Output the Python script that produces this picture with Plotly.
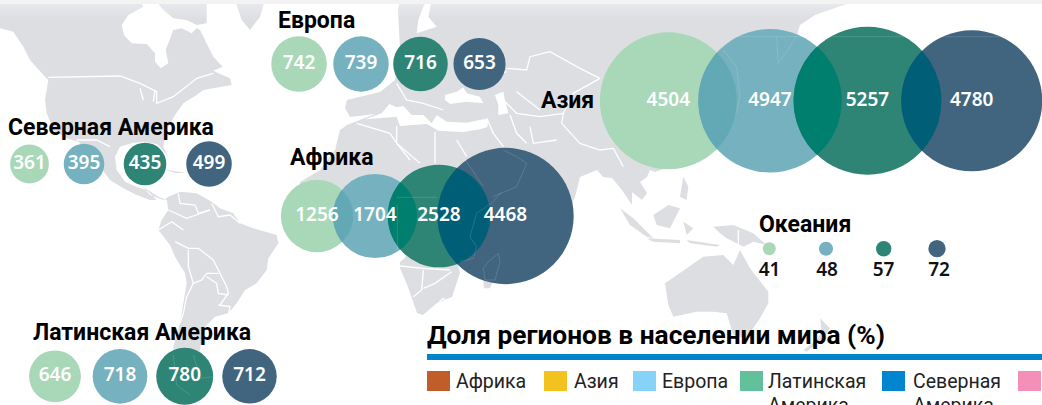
import numpy as np
import plotly.graph_objects as go

W, H = 1042, 405

# ---- data ----
REGION_NAMES = ["Европа", "Северная Америка", "Латинская Америка", "Африка", "Азия", "Океания"]
EUROPE = [742, 739, 716, 653]
NORTH_AMERICA = [361, 395, 435, 499]
LATIN_AMERICA = [646, 718, 780, 712]
AFRICA = [1256, 1704, 2528, 4468]
ASIA = [4504, 4947, 5257, 4780]
OCEANIA = [41, 48, 57, 72]
SHARE_TITLE = "Доля регионов в населении мира (%)"
SHARE_LABELS = ["Африка", "Азия", "Европа", "Латинская", "Северная"]
SHARE_LABELS_2 = ["Америка", "Америка"]

# ---- placement & style ----
PERIOD_COLORS = ["#a8d8b8", "#75b1be", "#2e8576", "#41657f"]
EUROPE_X, EUROPE_Y = [299, 361, 420.5, 479.5], 64
NA_X, NA_Y = [29.5, 84, 145, 209], 164
LA_X, LA_Y = [55, 120, 184.7, 249.5], 376.3
AFRICA_X, AFRICA_Y = [317, 375, 439, 505.5], 216
ASIA_X, ASIA_Y = [668.3, 770, 867.5, 971.7], 100.8
OCEANIA_X, OCEANIA_Y = [769.3, 826, 883.7, 937], 248.7
LENS_COLORS = ["#63a9b5", "#007e6e", "#005e76"]
SHARE_COLORS = ["#c05d28", "#f2c31f", "#87d3f8", "#62c19a", "#0085ce", "#f48fba"]
SHARE_SWATCH_X0 = [427, 544, 633, 740, 882, 1018]
SHARE_TEXT_X = [455, 572.7, 660.7, 767, 912.3]
SHARE_TEXT_2_X = [767, 912.3]
LAND = "#dcdee2"
BOLD_FONT = "Roboto"
SIZEREF = 0.4806


def radius(v):
    return np.sqrt(v / (2 * SIZEREF))


def z(pts, ox, oy):
    """Background outline traced from an enlarged view (scale 3)."""
    return [(ox + a / 3, oy + b / 3) for a, b in pts]


# ---- backdrop map outlines ----
NORTH = z([(0,0),(420,0),(430,20),(385,45),(365,75),(372,105),(395,130),(440,132),(465,160),(465,185),(482,205),(505,190),(497,150),(512,110),(520,90),(545,85),(575,100),(590,85),(600,90),(625,140),(640,170),(668,200),(640,212),(660,222),(690,235),(695,255),(640,265),(610,270),(590,285),(550,310),(525,345),(505,380),(495,415),(490,440),(505,470),(480,440),(470,432),(430,425),(395,430),(360,440),(345,470),(350,510),(375,545),(410,560),(440,570),(470,600),(450,600),(410,585),(370,565),(330,540),(300,500),(270,460),(235,425),(200,415),(160,390),(140,340),(135,300),(145,240),(130,225),(90,180),(70,140),(40,95),(0,85)], 0, 0)
BAFFIN = z([(465,0),(620,0),(620,70),(590,75),(560,60),(520,55),(490,30)], 0, 0)
GREENLAND = z([(705,0),(795,0),(780,50),(750,90),(725,60)], 0, 0)
SOUTH = z([(40,20),(60,45),(100,60),(115,50),(150,35),(200,40),(245,65),(270,85),(310,100),(330,130),(370,145),(440,165),(445,190),(415,235),(410,270),(380,310),(345,330),(320,370),(295,400),(255,410),(225,440),(215,480),(210,510),(200,560),(160,620),(130,600),(130,500),(150,430),(160,370),(170,310),(165,280),(135,230),(120,195),(85,150),(95,120),(115,90),(110,60),(85,50)], 130, 180)
EURASIA_AFRICA = [(427,0),(858,0),(835,8),(815,15),(800,25),(790,60),(745,140),(655,172),(650,170),(647,177),(640,182),(647,193),(642,200),(632,192),(632,205),(622,190),(612,178),(603,177),(597,170),(580,177),(575,197),(555,240),(510,240),(470,257),(458,265),(460,273),(452,297),(437,303),(423,315),(417,313),(408,287),(400,268),(400,262),(405,258),(410,240),(375,245),(335,238),(300,225),(300,182),(320,170),(335,150),(340,130),(347,125),(365,118),(375,114),(350,117),(345,108),(347,100),(380,92),(395,80),(400,50),(398,10),(400,0)]
MADAGASCAR = z([(310,270),(340,270),(330,295),(312,295)], 380, 190)
AUSTRALIA = z([(435,235),(470,210),(550,155),(610,150),(640,180),(660,135),(690,190),(745,260),(745,295),(720,340),(680,400),(640,390),(620,325),(580,320),(530,320),(460,335),(445,300)], 520, 205)
NEW_GUINEA = z([(580,65),(640,60),(700,85),(740,120),(700,110),(670,125),(620,100),(600,85)], 520, 205)
BORNEO = z([(445,0),(480,10),(450,70),(410,60),(400,30)], 520, 205)
SULAWESI = z([(490,50),(520,70),(500,90)], 520, 205)
SUMATRA = z([(300,10),(340,40),(400,100),(380,95),(330,60)], 520, 205)
JAVA = z([(380,100),(480,105),(480,115),(400,110)], 520, 205)
TIMOR = z([(500,105),(600,120),(590,125),(510,115)], 520, 205)
NEW_ZEALAND = z([(900,340),(930,370),(910,400),(860,440),(850,435),(890,405),(905,380)], 520, 205)
PHILIPPINES = z([(550,530),(565,560),(560,600),(540,590)], 500, 0)
CUBA = z([(490,508),(555,518),(530,520)], 0, 0)
LAND_POLYS = [NORTH, BAFFIN, GREENLAND, SOUTH, EURASIA_AFRICA, MADAGASCAR, AUSTRALIA, NEW_GUINEA,
              BORNEO, SULAWESI, SUMATRA, JAVA, TIMOR, NEW_ZEALAND, PHILIPPINES, CUBA]

MED = z([(345,358),(395,340),(418,312),(440,322),(460,318),(485,345),(520,345),(545,370),(560,345),(590,365),(650,368),(700,358),(715,358),(712,382),(690,388),(640,396),(565,392),(530,372),(450,378),(440,350),(395,354)], 250, 0)
BLACK_SEA = z([(585,285),(620,275),(640,262),(650,280),(690,290),(700,310),(650,305),(600,312),(585,300)], 250, 0)
CASPIAN = z([(735,285),(760,275),(765,300),(775,340),(745,345),(745,315)], 250, 0)
BALTIC = z([(505,60),(520,20),(530,0),(545,0),(535,50),(560,80),(500,100)], 250, 0)
WATER_POLYS = [MED, BLACK_SEA, CASPIAN, BALTIC]

BORDERS = [
    z([(145,232),(360,228),(420,250),(470,275),(470,310),(520,290),(565,255),(590,235),(640,220)], 0, 0),
    z([(230,420),(290,420),(330,440)], 0, 0),
    z([(420,265),(430,300)], 0, 0), z([(465,270),(460,305)], 0, 0),
    z([(145,40),(150,70),(195,75),(205,100),(240,90)], 130, 180),
    z([(85,150),(125,125),(160,150)], 130, 180),
    z([(115,90),(170,115),(240,90)], 130, 180),
    z([(135,185),(175,205),(205,205),(250,240),(265,270),(290,320),(295,340),(270,375)], 130, 180),
    z([(175,210),(175,260),(190,310),(215,300),(230,280),(265,280)], 130, 180),
    z([(190,310),(170,350),(160,400),(150,430)], 130, 180),
    z([(230,290),(260,310),(265,340),(295,345)], 130, 180),
    z([(265,375),(300,380),(295,405)], 130, 180),
    z([(245,70),(265,110),(300,105),(330,130)], 130, 180),
    z([(20,205),(80,210),(90,170),(150,155),(240,205),(300,235)], 500, 0),
    z([(0,290),(50,340),(120,350),(190,340)], 500, 0),
    z([(300,235),(220,280),(190,340),(185,370),(240,430),(300,450),(340,445),(370,500)], 500, 0),
    z([(50,275),(120,330)], 500, 0),
    z([(90,380),(100,430),(170,420)], 500, 0),
    z([(770,215),(720,230),(690,265)], 250, 0),
    z([(780,345),(800,400),(830,430)], 250, 0),
    z([(710,355),(730,400),(760,440)], 250, 0),
    z([(440,378),(440,430),(480,480)], 250, 0),
    z([(555,395),(555,490)], 250, 0),
    z([(320,370),(420,400),(440,430),(510,490)], 250, 0),
    z([(620,420),(650,470)], 250, 0),
    z([(440,250),(470,300),(520,310),(580,330)], 250, 0),
    z([(60,228),(130,235),(210,240)], 380, 190),
    z([(130,240),(125,300),(100,320)], 380, 190),
    z([(130,295),(165,280),(215,245)], 380, 190),
    z([(178,335),(190,325),(198,335),(187,345),(178,335)], 380, 190),
    z([(655,75),(655,120)], 520, 205),
]

# faint map lines seen through the bubbles
THROUGH = [
    z([(365,5),(340,35),(290,70),(270,140),(290,170),(280,205),(240,215)], 380, 190),
    z([(355,190),(360,215),(345,270),(315,270),(310,235),(325,215),(355,190)], 380, 190),
    z([(640,470),(700,560)], 250, 0),
    z([(760,450),(800,470),(830,490),(800,560),(730,590)], 250, 0),
    z([(610,150),(650,200),(660,290),(650,340)], 520, 0),
    z([(770,110),(775,190),(830,110)], 520, 0),
    z([(650,110),(1460,110)], 520, 0),
    z([(520,450),(530,540),(570,570)], 0, 205),
    z([(580,450),(600,520),(640,515)], 0, 205),
    z([(1192,0),(1192,140)], 0, 205),
    z([(50,22),(170,22)], 380, 190),
]


def flat(polys):
    xs, ys = [], []
    for p in polys:
        xs += [a for a, _ in p] + [None]
        ys += [b for _, b in p] + [None]
    return xs, ys


fig = go.Figure()
lx, ly = flat(LAND_POLYS)
fig.add_trace(go.Scatter(x=lx, y=ly, mode="lines", fill="toself", fillcolor=LAND, line=dict(width=0, color=LAND), hoverinfo="skip"))
wx, wy = flat(WATER_POLYS)
fig.add_trace(go.Scatter(x=wx, y=wy, mode="lines", fill="toself", fillcolor="white", line=dict(width=0, color="white"), hoverinfo="skip"))
bx, by = flat(BORDERS)
fig.add_trace(go.Scatter(x=bx, y=by, mode="lines", line=dict(width=1.3, color="white"), hoverinfo="skip"))

GROUPS = [(EUROPE, EUROPE_X, EUROPE_Y), (NORTH_AMERICA, NA_X, NA_Y), (LATIN_AMERICA, LA_X, LA_Y),
          (AFRICA, AFRICA_X, AFRICA_Y), (ASIA, ASIA_X, ASIA_Y), (OCEANIA, OCEANIA_X, OCEANIA_Y)]

for name, (vals, xs, y) in zip(REGION_NAMES, GROUPS):
    fig.add_trace(go.Scatter(
        x=xs, y=[y] * len(xs), mode="markers", name=name,
        marker=dict(size=vals, sizemode="area", sizeref=SIZEREF, color=PERIOD_COLORS, opacity=1, line=dict(width=0)),
        hovertemplate="%{marker.size}<extra>" + name + "</extra>"))


def lens(x1, y1, r1, x2, y2, r2):
    d = np.hypot(x2 - x1, y2 - y1)
    a = np.arccos((d * d + r1 * r1 - r2 * r2) / (2 * d * r1))
    b = np.arccos((d * d + r2 * r2 - r1 * r1) / (2 * d * r2))
    base = np.arctan2(y2 - y1, x2 - x1)
    t1 = np.linspace(base - a, base + a, 60)
    t2 = np.linspace(base + np.pi - b, base + np.pi + b, 60)
    return (np.r_[x1 + r1 * np.cos(t1), x2 + r2 * np.cos(t2)],
            np.r_[y1 + r1 * np.sin(t1), y2 + r2 * np.sin(t2)])


for vals, xs, y in [(AFRICA, AFRICA_X, AFRICA_Y), (ASIA, ASIA_X, ASIA_Y)]:
    for i in range(3):
        px, py = lens(xs[i], y, radius(vals[i]), xs[i + 1], y, radius(vals[i + 1]))
        fig.add_trace(go.Scatter(x=px, y=py, mode="lines", fill="toself", fillcolor=LENS_COLORS[i],
                                 line=dict(width=0, color=LENS_COLORS[i]), hoverinfo="skip"))

tx, ty = flat(THROUGH)
fig.add_trace(go.Scatter(x=tx, y=ty, mode="lines", line=dict(width=0.7, color="rgba(255,255,255,0.2)"), hoverinfo="skip"))

# white values inside the bubbles
for vals, xs, y in GROUPS[:-1]:
    fig.add_trace(go.Scatter(x=xs, y=[y] * len(xs), mode="text", text=[str(v) for v in vals],
                             textposition="middle center", hoverinfo="skip",
                             textfont=dict(family="Noto Sans", size=19, color="white", weight=600)))
# Oceania values sit under their dots
fig.add_trace(go.Scatter(x=[769.5, 827, 883.5, 939], y=[271] * 4, mode="text", text=[str(v) for v in OCEANIA],
                         textposition="middle center", hoverinfo="skip",
                         textfont=dict(family="Noto Sans", size=19, color="#111", weight=600)))

TITLE_POS = [(276, 20), (6, 127), (31, 332), (288, 157), (539, 100), (756.5, 224)]
ann = []
for name, (x, y) in zip(REGION_NAMES, TITLE_POS):
    ann.append(dict(x=x, y=y, text=name, showarrow=False, xanchor="left", yanchor="middle",
                    font=dict(family=BOLD_FONT, size=23, color="black", weight=700)))
ann.append(dict(x=425, y=335, text=SHARE_TITLE, showarrow=False, xanchor="left", yanchor="middle",
                font=dict(family=BOLD_FONT, size=26.3, color="black", weight=700)))
for x, t in zip(SHARE_TEXT_X, SHARE_LABELS):
    ann.append(dict(x=x - 1, y=381, text=t, showarrow=False, xanchor="left", yanchor="middle",
                    font=dict(family="Roboto", size=19.5, color="#222")))
for x, t in zip(SHARE_TEXT_2_X, SHARE_LABELS_2):
    ann.append(dict(x=x - 1, y=405, text=t, showarrow=False, xanchor="left", yanchor="middle",
                    font=dict(family="Roboto", size=19.5, color="#222")))

shapes = [dict(type="rect", x0=427, x1=W, y0=354, y1=360, fillcolor="#0085cc", line=dict(width=0), layer="above")]
for x0, c in zip(SHARE_SWATCH_X0, SHARE_COLORS):
    shapes.append(dict(type="rect", x0=x0, x1=x0 + 23, y0=371, y1=391, fillcolor=c, line=dict(width=0), layer="above"))
shapes.append(dict(type="rect", x0=0, x1=W, y0=0, y1=4, fillcolor="#f3f3f3", line=dict(width=0), layer="above"))
for k in range(8):
    shapes.append(dict(type="rect", x0=0, x1=W, y0=4 + 2 * k, y1=6 + 2 * k, fillcolor="white",
                       opacity=0.3 * (1 - k / 8), line=dict(width=0), layer="above"))

fig.update_layout(
    width=W, height=H, margin=dict(l=0, r=0, t=0, b=0), showlegend=False,
    plot_bgcolor="white", paper_bgcolor="white",
    xaxis=dict(range=[0, W], visible=False, fixedrange=True),
    yaxis=dict(range=[H, 0], visible=False, fixedrange=True),
    annotations=ann, shapes=shapes, hovermode="closest",
)
fig.write_html("out.html", config={"displayModeBar": False},
               post_script="document.body.style.margin='0';document.body.style.overflow='hidden';")
